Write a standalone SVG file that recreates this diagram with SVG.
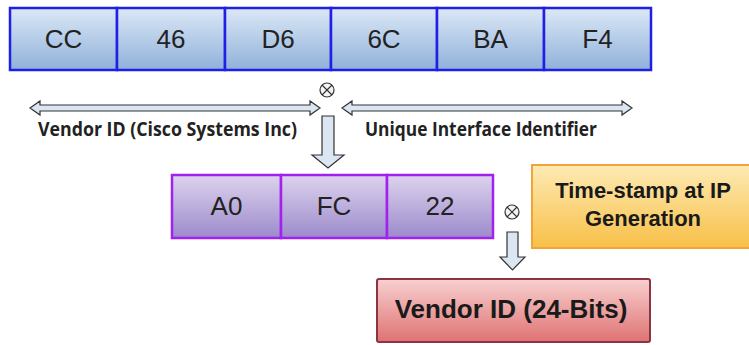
<svg xmlns="http://www.w3.org/2000/svg" width="749" height="345" viewBox="0 0 749 345">
<defs>
<linearGradient id="gBlue" x1="0" y1="0" x2="0" y2="1"><stop offset="0" stop-color="#dce8f6"/><stop offset="1" stop-color="#8fb1da"/></linearGradient>
<linearGradient id="gPurple" x1="0" y1="0" x2="0" y2="1"><stop offset="0" stop-color="#ddd3ee"/><stop offset="1" stop-color="#9c8acb"/></linearGradient>
<linearGradient id="gOrange" x1="0" y1="0" x2="0" y2="1"><stop offset="0" stop-color="#fdeab4"/><stop offset="1" stop-color="#f8c048"/></linearGradient>
<linearGradient id="gRed" x1="0" y1="0" x2="0" y2="1"><stop offset="0" stop-color="#f8d0d0"/><stop offset="1" stop-color="#df7272"/></linearGradient>
</defs>
<style>
.cb{fill:url(#gBlue);stroke:#1f1fe6;stroke-width:2.5}
.cp{fill:url(#gPurple);stroke:#a221ee;stroke-width:2.5}
.ct{font-family:"Liberation Sans",Arial,sans-serif;font-size:26px;fill:#222;text-anchor:middle}
.lb{font-family:"Open Sans","Liberation Sans",sans-serif;font-weight:bold;font-size:19px;fill:#222}
.bt{font-family:"Liberation Sans",Arial,sans-serif;font-weight:bold;fill:#1a1a1a;text-anchor:middle}
.ar{fill:#dce6f2;stroke:#333;stroke-width:1.2}
.ox circle{fill:#f4f4f4;stroke:#333;stroke-width:1.2}
.ox path{stroke:#333;stroke-width:1.2;fill:none}
</style>
<rect width="749" height="345" fill="#ffffff"/>
<g id="top-row">
<rect class="cb" x="10" y="8" width="107" height="62"/><text class="ct" x="63.5" y="48">CC</text>
<rect class="cb" x="117" y="8" width="108" height="62"/><text class="ct" x="171" y="48">46</text>
<rect class="cb" x="225" y="8" width="106" height="62"/><text class="ct" x="278" y="48">D6</text>
<rect class="cb" x="331" y="8" width="106" height="62"/><text class="ct" x="384" y="48">6C</text>
<rect class="cb" x="437" y="8" width="107" height="62"/><text class="ct" x="490.5" y="48">BA</text>
<rect class="cb" x="544" y="8" width="107" height="62"/><text class="ct" x="597.5" y="48">F4</text>
</g>
<g id="middle-row">
<rect class="cp" x="172" y="175" width="109" height="63"/><text class="ct" x="226.5" y="215">A0</text>
<rect class="cp" x="281" y="175" width="106" height="63"/><text class="ct" x="334" y="215">FC</text>
<rect class="cp" x="387" y="175" width="106" height="63"/><text class="ct" x="440" y="215">22</text>
</g>
<g id="timestamp">
<rect x="532" y="165" width="222" height="83" fill="url(#gOrange)" stroke="#f0a43a" stroke-width="2"/>
<text class="bt" x="643" y="198" font-size="22">Time-stamp at IP</text>
<text class="bt" x="643" y="226" font-size="22">Generation</text>
</g>
<g id="vendor-id-24">
<rect x="377" y="279" width="273" height="63" rx="2" fill="url(#gRed)" stroke="#8a3444" stroke-width="2"/>
<text class="bt" x="511" y="318" font-size="26">Vendor ID (24-Bits)</text>
</g>
<g id="labels">
<text class="lb" x="38" y="136" textLength="259" lengthAdjust="spacingAndGlyphs">Vendor ID (Cisco Systems Inc)</text>
<text class="lb" x="365" y="136" textLength="232" lengthAdjust="spacingAndGlyphs">Unique Interface Identifier</text>
</g>
<g id="connectors">
<polygon class="ar" points="30,108 40,101 40,105 310,105 310,101 320,108 310,115 310,111 40,111 40,115"/>
<polygon class="ar" points="342,108 352,101 352,105 622,105 622,101 632,108 622,115 622,111 352,111 352,115"/>
<polygon class="ar" points="322,116 334,116 334,155 344,155 328,168 312,155 322,155"/>
<polygon class="ar" points="507,232 518,232 518,257 525,257 512.5,270 500,257 507,257"/>
<g class="ox"><circle cx="327" cy="90" r="7"/><path d="M322,85 L332,95 M332,85 L322,95"/></g>
<g class="ox"><circle cx="512" cy="212" r="7"/><path d="M507,207 L517,217 M517,207 L507,217"/></g>
</g>
</svg>
